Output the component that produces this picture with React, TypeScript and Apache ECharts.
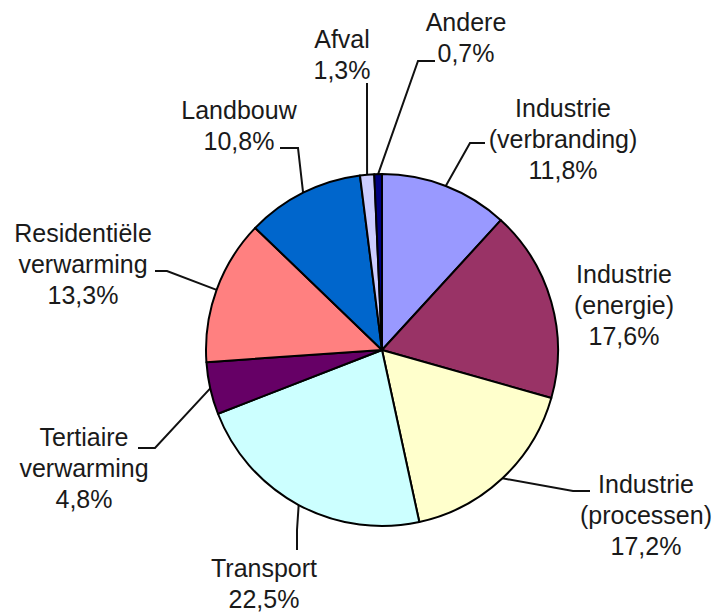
import React, { useEffect, useRef } from "react";
import * as echarts from "echarts";

const categories = [
  "Industrie\n(verbranding)",
  "Industrie\n(energie)",
  "Industrie\n(processen)",
  "Transport",
  "Tertiaire\nverwarming",
  "Residentiële\nverwarming",
  "Landbouw",
  "Afval",
  "Andere",
];
const shares = [11.8, 17.6, 17.2, 22.5, 4.8, 13.3, 10.8, 1.3, 0.7];
const colors = [
  "#9999FF",
  "#993366",
  "#FFFFCC",
  "#CCFFFF",
  "#660066",
  "#FF8080",
  "#0066CC",
  "#CCCCFF",
  "#000080",
];

// Label block centres and leader-line bend/end points (layout only)
const labelCentres: [number, number][] = [
  [563, 139],
  [624, 305],
  [646, 515],
  [264, 583],
  [84, 468],
  [83, 264],
  [239, 125],
  [342, 54],
  [466, 37],
];
const guides: ([number, number][] | null)[] = [
  [[470, 143], [485, 143]],
  null,
  [[573, 491], [590, 491]],
  [[297, 530], [297, 550]],
  [[155, 448], [138, 448]],
  [[167, 271], [155, 271]],
  [[298, 148], [280, 148]],
  [[367, 120], [367, 83]],
  [[418, 61], [435, 61]],
];

export default function App() {
  const ref = useRef<HTMLDivElement>(null);
  useEffect(() => {
    if (!ref.current) return;
    const chart = echarts.init(ref.current, undefined, { renderer: "svg" });
    const cx = 382;
    const cy = 350;
    const r = 176;
    const total = shares.reduce((a, b) => a + b, 0);
    chart.setOption({
      animation: false,
      backgroundColor: "#ffffff",
      series: [
        {
          type: "pie",
          center: [cx, cy],
          radius: r,
          startAngle: 90,
          clockwise: true,
          avoidLabelOverlap: false,
          itemStyle: { borderColor: "#000000", borderWidth: 2 },
          label: {
            show: true,
            position: "outside",
            color: "#1a1a1a",
            fontFamily: "Liberation Sans, Arial, sans-serif",
            fontSize: 25,
            lineHeight: 31,
            align: "center",
            formatter: (p: any) =>
              `${p.name}\n${Number(p.value).toFixed(1).replace(".", ",")}%`,
          },
          labelLine: {
            show: true,
            smooth: false,
            lineStyle: { color: "#111111", width: 2 },
          },
          labelLayout: (params: any) => {
            const i = params.dataIndex;
            const [x, y] = labelCentres[i];
            const g = guides[i];
            const out: any = { x, y, align: "center", verticalAlign: "middle" };
            if (g) {
              let before = 0;
              for (let k = 0; k < i; k++) before += shares[k];
              const ang = ((before + shares[i] / 2) / total) * Math.PI * 2;
              const p0: [number, number] = [cx + r * Math.sin(ang), cy - r * Math.cos(ang)];
              out.labelLinePoints = [p0, g[0], g[1]];
            }
            return out;
          },
          data: categories.map((name, i) => ({
            name,
            value: shares[i],
            itemStyle: { color: colors[i] },
            labelLine: { show: guides[i] !== null },
          })),
        },
      ],
    });
    return () => chart.dispose();
  }, []);
  return (
    <div
      ref={ref}
      style={{ position: "fixed", left: 0, top: 0, width: 719, height: 612, background: "#fff" }}
    />
  );
}
